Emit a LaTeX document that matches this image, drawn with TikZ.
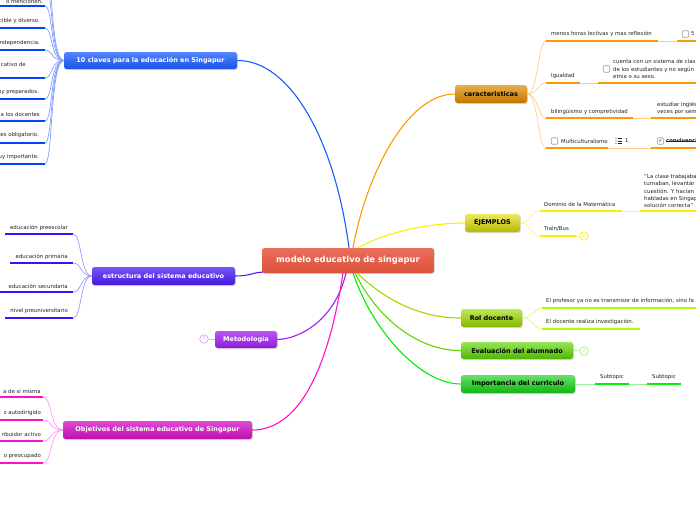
\documentclass[tikz,border=0pt]{standalone}
\usepackage{fontspec}
\setmainfont{DejaVu Sans}
\usetikzlibrary{shadows}
\definecolor{cRed}{HTML}{E8553E}
\definecolor{cBlue}{HTML}{1A5CFF}
\definecolor{cBlueLine}{HTML}{0044FF}
\definecolor{cBlueCon}{HTML}{7FA0FF}
\definecolor{cViol}{HTML}{4B1CF5}
\definecolor{cViolLine}{HTML}{3A10FF}
\definecolor{cViolCon}{HTML}{A595FF}
\definecolor{cPurp}{HTML}{A11EF2}
\definecolor{cPurpCon}{HTML}{D8A0FF}
\definecolor{cMag}{HTML}{D40EC4}
\definecolor{cMagLine}{HTML}{FF10D0}
\definecolor{cMagCon}{HTML}{FF99EE}
\definecolor{cOr}{HTML}{E38A00}
\definecolor{cOrLine}{HTML}{FF9900}
\definecolor{cOrCon}{HTML}{FFCC88}
\definecolor{cYel}{HTML}{DADA00}
\definecolor{cYelLine}{HTML}{FFEE00}
\definecolor{cYelCon}{HTML}{FFF380}
\definecolor{cLime}{HTML}{9CDB00}
\definecolor{cLimeLine}{HTML}{AAFF00}
\definecolor{cLimeCon}{HTML}{D4FF80}
\definecolor{cGreen}{HTML}{5CD600}
\definecolor{cGreenCon}{HTML}{B0F080}
\definecolor{cGrTwo}{HTML}{14D414}
\definecolor{cGrTwoLine}{HTML}{00EE00}
\definecolor{cGrTwoCon}{HTML}{99F099}
\definecolor{subtext}{HTML}{222222}
\tikzset{
  topic/.style={rounded corners=2.5pt, inner sep=0pt, font=\fontsize{6.5}{7}\selectfont\bfseries,
    drop shadow={opacity=0.3, shadow xshift=0.8pt, shadow yshift=-1pt}},
  central/.style={topic, font=\fontsize{8.4}{9}\selectfont\bfseries, text=white,
    top color=cRed!85!white, bottom color=cRed!95!black, minimum width=172pt, minimum height=25pt},
  sub/.style={font=\fontsize{5.4}{7.2}\selectfont, text=subtext, inner sep=0pt},
  thickline/.style={line width=2.4pt},
  conline/.style={line width=0.7pt},
  mainline/.style={line width=1.1pt},
  cbox/.style={draw=gray!75, fill=white, rounded corners=1pt, minimum size=6.5pt, inner sep=0pt, line width=0.6pt},
  numcirc/.style={circle, draw=#1, line width=0.7pt, minimum size=8.5pt, inner sep=0pt, font=\fontsize{5}{5}\selectfont, text=#1},
}
\begin{document}
\begin{tikzpicture}[x=1pt,y=-1pt]
\useasboundingbox (0,0) rectangle (696,520);
\clip (0,0) rectangle (696,520);

% ---------------- main nodes
\node[central] (center) at (348,260.5) {modelo educativo de singapur};
\node[topic, text=white, top color=cBlue!75!white, bottom color=cBlue!90!black, minimum width=173pt, minimum height=17pt] (claves) at (150.5,60.5) {10 claves para la educación en Singapur};
\node[topic, text=white, top color=cViol!75!white, bottom color=cViol!90!black, minimum width=143pt, minimum height=18pt] (estr) at (163.5,276) {estructura del sistema educativo};
\node[topic, text=white, top color=cPurp!75!white, bottom color=cPurp!90!black, minimum width=62pt, minimum height=17pt] (metod) at (246,339.5) {Metodología};
\node[topic, text=white, top color=cMag!75!white, bottom color=cMag!90!black, minimum width=189pt, minimum height=18pt] (objet) at (157.5,430) {Objetivos del sistema educativo de Singapur};
\node[topic, text=black, top color=cOr!70!white, bottom color=cOr!85!black, minimum width=72pt, minimum height=18pt] (caract) at (491,94) {caracteristicas};
\node[topic, text=black, top color=cYel!60!white, bottom color=cYel!85!black, minimum width=55pt, minimum height=18pt] (ejem) at (492.5,223) {EJEMPLOS};
\node[topic, text=black, top color=cLime!65!white, bottom color=cLime!85!black, minimum width=61pt, minimum height=18pt] (rol) at (491.5,318) {Rol docente};
\node[topic, text=black, top color=cGreen!65!white, bottom color=cGreen!85!black, minimum width=112pt, minimum height=17pt] (eval) at (517,350.5) {Evaluación del alumnado};
\node[topic, text=black, top color=cGrTwo!65!white, bottom color=cGrTwo!85!black, minimum width=114pt, minimum height=18pt] (impo) at (518,384) {Importancia del curriculo};

% ---------------- main connectors
\coordinate (cTopA) at (349,248);
\coordinate (cTopB) at (353,248);
\coordinate (cTopC) at (358,248);
\coordinate (cBotA) at (343,273);
\coordinate (cBotB) at (346,273);
\coordinate (cBotC) at (353,273);
\coordinate (cBotD) at (355,273);
\coordinate (cBotE) at (357,273);
\coordinate (cLeft) at (263,272);
\draw[mainline, cBlue] (cTopA) .. controls (335,140) and (290,60) .. (claves.east);
\draw[mainline, cOrLine] (cTopB) .. controls (365,180) and (405,94) .. (caract.west);
\draw[mainline, cYelLine] (cTopC) .. controls (385,232) and (430,223) .. (ejem.west);
\draw[mainline, cLime] (cBotE) .. controls (385,300) and (420,318) .. (rol.west);
\draw[mainline, cGreen] (cBotD) .. controls (378,320) and (420,351) .. (eval.west);
\draw[mainline, cGrTwoLine] (cBotC) .. controls (372,330) and (420,384) .. (impo.west);
\draw[mainline, cPurp] (cBotB) .. controls (335,320) and (300,339) .. (metod.east);
\draw[mainline, cMagLine] (cBotA) .. controls (325,390) and (290,430) .. (objet.east);
\draw[mainline, cViol] (estr.east) .. controls (250,276) and (255,272) .. (cLeft);

% ---------------- 10 claves subtopics
\foreach \ty/\ly/\tx/\txt [count=\i] in {1/6/43/{o mencionen.}, 21/28/40/{cible y diverso.}, 43/50/40/{ndependencia.}, 64/78/26/{cativo de}, 92/99/39/{uy preparados.}, 114/121/40/{a los docentes}, 135/143/39/{es obligatorio.}, 157/164/39/{uy importante.}} {
  \coordinate (kA\i) at (0,\ly);
  \coordinate (kB\i) at (45,\ly);
  \draw[thickline, cBlueLine] (kA\i) -- (kB\i);
  \node[sub, anchor=east] (kt\i) at (\tx,\ty) {\txt};
  \draw[conline, cBlueCon] (claves.west) .. controls (50,60.5) and (53,\ly) .. (kB\i);
}
\coordinate (kUpA) at (45,-16);
\coordinate (kUpB) at (45,-38);
\draw[conline, cBlueCon] (claves.west) .. controls (50,60.5) and (53,-16) .. (kUpA);
\draw[conline, cBlueCon] (claves.west) .. controls (50,60.5) and (53,-38) .. (kUpB);

% ---------------- estructura subtopics
\foreach \ty/\ly/\lx/\txt [count=\i] in {228/234/5/{educación preescolar}, 257/263/10/{educación primaria}, 286/292/0/{educación secundaria}, 311/318/5/{nivel preuniversitario}} {
  \coordinate (eA\i) at (\lx,\ly);
  \coordinate (eB\i) at (73,\ly);
  \draw[thickline, cViolLine] (eA\i) -- (eB\i);
  \node[sub, anchor=east] (et\i) at (68,\ty) {\txt};
  \draw[conline, cViolCon] (estr.west) .. controls (80,276) and (82,\ly) .. (eB\i);
}

% ---------------- objetivos subtopics
\foreach \ty/\ly/\txt [count=\i] in {391/397/{a de sí misma}, 413/420/{z autodirigido}, 434/441/{ribuidor activo}, 456/463/{o preocupado}} {
  \coordinate (oA\i) at (0,\ly);
  \coordinate (oB\i) at (43,\ly);
  \draw[thickline, cMagLine] (oA\i) -- (oB\i);
  \node[sub, anchor=east] (ot\i) at (41,\ty) {\txt};
  \draw[conline, cMagCon] (objet.west) .. controls (50,430) and (52,\ly) .. (oB\i);
}

% ---------------- metodologia circle
\node[numcirc=cPurpCon] (m7) at (204,339) {7};
\draw[conline, cPurpCon] (m7) -- (metod.west);

% ---------------- caracteristicas subtopics
\foreach \ly/\ea/\eb [count=\i] in {41/658/677, 83/580/598, 118/633/651, 148/608/651} {
  \coordinate (cA\i) at (546,\ly);
  \coordinate (cB\i) at (\ea,\ly);
  \coordinate (cC\i) at (\eb,\ly);
  \coordinate (cD\i) at (700,\ly);
  \draw[thickline, cOrLine] (cA\i) -- (cB\i);
  \draw[conline, cOrCon] (cB\i) -- (cC\i);
  \draw[thickline, cOrLine] (cC\i) -- (cD\i);
  \draw[conline, cOrCon] (caract.east) .. controls (538,94) and (538,\ly) .. (cA\i);
}
\node[sub, anchor=west] (ct1) at (551,34) {menos horas lectivas y mas reflexión};
\node[cbox] (cb1) at (685.5,34) {};
\node[sub, anchor=west] (ct1b) at (691,34) {5};
\node[sub, anchor=west] (ct2) at (551,76) {Igualdad};
\node[cbox] (cb2) at (606.5,69) {};
\node[sub, anchor=west, align=left] (ct2b) at (613,69) {cuenta con un sistema de clas\\de los estudiantes y no según\\etnia o su sexo.};
\node[sub, anchor=west] (ct3) at (551,112) {bilingüismo y compretividad};
\node[sub, anchor=west, align=left] (ct3b) at (657,108.5) {estudiar inglés\\veces por sem};
\node[cbox] (cb4) at (554.5,141) {};
\node[sub, anchor=west] (ct4) at (561,141) {Multiculturalismo};
% list icon
\foreach \dy in {-2.6,0,2.6} {
  \fill[subtext] (616,141+\dy) circle (0.55pt);
  \draw[subtext, line width=0.5pt] (617.6,141+\dy) -- (622,141+\dy);
}
\node[sub, anchor=west] (ct4n) at (625,141) {1};
\node[cbox, font=\fontsize{5}{5}\selectfont] (cb4b) at (660.5,141) {✓};
\node[sub, anchor=west, font=\fontsize{5.2}{7}\selectfont\bfseries] (ct4b) at (666,141) {convivencia};
\draw[subtext, line width=0.4pt] (ct4b.west) -- (ct4b.east);

% ---------------- ejemplos subtopics
\coordinate (jA1) at (540,211);
\coordinate (jB1) at (622,211);
\coordinate (jC1) at (640,211);
\coordinate (jD1) at (700,211);
\coordinate (jA2) at (540,236);
\coordinate (jB2) at (576,236);
\draw[thickline, cYelLine] (jA1) -- (jB1);
\draw[conline, cYelCon] (jB1) -- (jC1);
\draw[thickline, cYelLine] (jC1) -- (jD1);
\draw[thickline, cYelLine] (jA2) -- (jB2);
\draw[conline, cYelCon] (ejem.east) .. controls (531,223) and (531,211) .. (jA1);
\draw[conline, cYelCon] (ejem.east) .. controls (531,223) and (531,236) .. (jA2);
\node[sub, anchor=west] (jt1) at (544,204) {Dominio de la Matemática};
\node[sub, anchor=west, align=left] (jt1b) at (644,191) {"La clase trabajaba\\turnaban, levantár\\cuestión. Y hacían\\habladas en Singap\\solución correcta"};
\node[sub, anchor=west] (jt2) at (544,229) {Train/Bus};
\node[numcirc=cYelLine] (j2) at (584,236) {2};
\draw[conline, cYelCon] (jB2) -- (j2);

% ---------------- rol docente subtopics
\coordinate (rA1) at (542,308);
\coordinate (rB1) at (700,308);
\coordinate (rA2) at (542,329);
\coordinate (rB2) at (640,329);
\draw[thickline, cLimeLine] (rA1) -- (rB1);
\draw[thickline, cLimeLine] (rA2) -- (rB2);
\draw[conline, cLimeCon] (rol.east) .. controls (533,318) and (533,308) .. (rA1);
\draw[conline, cLimeCon] (rol.east) .. controls (533,318) and (533,329) .. (rA2);
\node[sub, anchor=west] (rt1) at (546,301) {El profesor ya no es transmisor de información, sino fa};
\node[sub, anchor=west] (rt2) at (546,322) {El docente realiza investigación.};

% ---------------- evaluacion
\node[numcirc=cGreenCon] (v2) at (584,351) {2};
\draw[conline, cGreenCon] (eval.east) -- (v2);

% ---------------- importancia
\coordinate (iA1) at (595,384);
\coordinate (iB1) at (629,384);
\coordinate (iA2) at (647,384);
\coordinate (iB2) at (681,384);
\draw[conline, cGrTwoCon] (impo.east) -- (iA1);
\draw[thickline, cGrTwoLine] (iA1) -- (iB1);
\draw[conline, cGrTwoCon] (iB1) -- (iA2);
\draw[thickline, cGrTwoLine] (iA2) -- (iB2);
\node[sub] (it1) at (612,377) {Subtopic};
\node[sub] (it2) at (664,377) {Subtopic};
\end{tikzpicture}
\end{document}
